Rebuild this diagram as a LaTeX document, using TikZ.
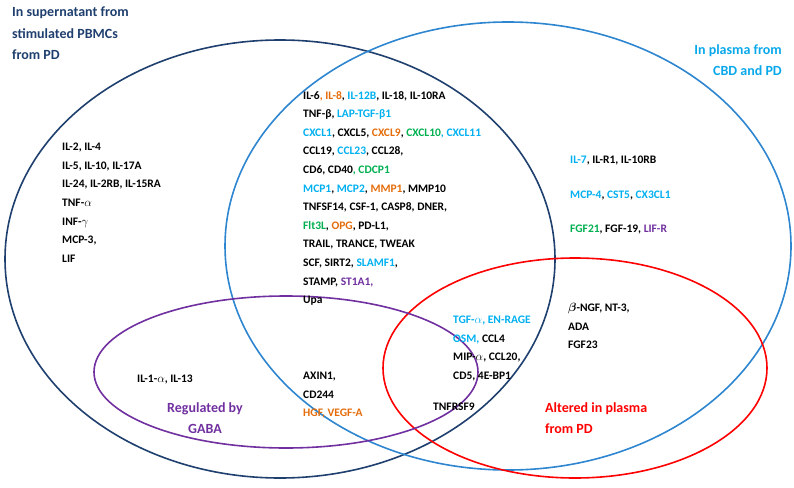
\documentclass[tikz,border=0pt]{standalone}
\usepackage{amsmath}
\usepackage{fontspec}
\setmainfont{Carlito}
\usepackage{xcolor}
\definecolor{cor}{HTML}{E46C0A}
\definecolor{ccy}{HTML}{00B0F0}
\definecolor{cgr}{HTML}{00B050}
\definecolor{cpu}{HTML}{7030A0}
\definecolor{cnv}{HTML}{1F3F6E}
\definecolor{cbl}{HTML}{2E86D0}
\newcommand{\Or}[1]{\textcolor{cor}{#1}}
\newcommand{\Cy}[1]{\textcolor{ccy}{#1}}
\newcommand{\Gr}[1]{\textcolor{cgr}{#1}}
\newcommand{\Pu}[1]{\textcolor{cpu}{#1}}
\begin{document}
\begin{tikzpicture}[x=1pt,y=-1pt,
  txt/.style={anchor=north west,align=left,inner sep=0,font=\bfseries\fontsize{11.5}{18.6}\selectfont},
  ttl/.style={inner sep=0,font=\bfseries\fontsize{14}{21.5}\selectfont},
  ring/.style={line width=1.6pt}]
\useasboundingbox (0,0) rectangle (794,487);
\draw[ring,cnv] (280,259) ellipse [x radius=275,y radius=219];
\draw[ring,cbl] (508,246) ellipse [x radius=283,y radius=224];
\draw[ring,red] (575,368) ellipse [x radius=192,y radius=110];
\draw[ring,cpu] (286,372) ellipse [x radius=192,y radius=76];
\node[ttl,anchor=north west,align=left,text=cnv] (t1) at (12,7) {In supernatant from\\stimulated PBMCs\\from PD};
\node[ttl,anchor=north east,align=right,text=ccy!80!cbl] (t2) at (782,44) {In plasma from\\CBD and PD};
\node[txt] (left) at (62,143) {IL-2, IL-4\\IL-5, IL-10, IL-17A\\IL-24, IL-2RB, IL-15RA\\TNF-$\alpha$\\INF-$\gamma$\\MCP-3,\\ LIF};
\node[txt] (mid) at (303,91) {IL-6\Or{, IL-8}, \Cy{IL-12B}, IL-18, IL-10RA\\TNF-β, \Cy{LAP-TGF-β1}\\\Cy{CXCL1}, CXCL5, \Or{CXCL9}, \Gr{CXCL10}\Cy{, CXCL11}\\CCL19, \Cy{CCL23}, CCL28,\\CD6, CD40\Gr{, CDCP1}\\\Cy{MCP1}, \Cy{MCP2}, \Or{MMP1}, MMP10\\TNFSF14, CSF-1, CASP8, DNER,\\\Gr{Flt3L}, \Or{OPG}, PD-L1,\\TRAIL, TRANCE, TWEAK\\SCF, SIRT2, \Cy{SLAMF1},\\STAMP, \Pu{ST1A1,}\\ Upa};
\node[txt] (right) at (570,156) {\Cy{IL-7}, IL-R1, IL-10RB\\[16pt]\Cy{MCP-4}, \Cy{CST5}, \Cy{CX3CL1}\\[16pt]\Gr{FGF21}, FGF-19, \Pu{LIF-R}};
\node[txt] (tgf) at (453,316) {\Cy{TGF-$\alpha$, EN-RAGE}\\\Cy{OSM,} CCL4\\MIP-$\alpha$, CCL20,\\CD5, 4E-BP1};
\node[txt] (ngf) at (568,303) {$\boldsymbol{\beta}$-NGF, NT-3,\\ ADA\\FGF23};
\node[txt] (il1) at (137,375) {IL-1-$\alpha$, IL-13};
\node[txt] (axin) at (303,372) {AXIN1,\\CD244\\\Or{HGF, VEGF-A}};
\node[txt] (tnf) at (433,403) {TNFRSF9};
\node[ttl,align=center,text=cpu] (gaba) at (205,418) {Regulated by\\GABA};
\node[ttl,align=left,anchor=west,text=red] (alt) at (545,418) {Altered in plasma\\from PD};
\end{tikzpicture}
\end{document}
